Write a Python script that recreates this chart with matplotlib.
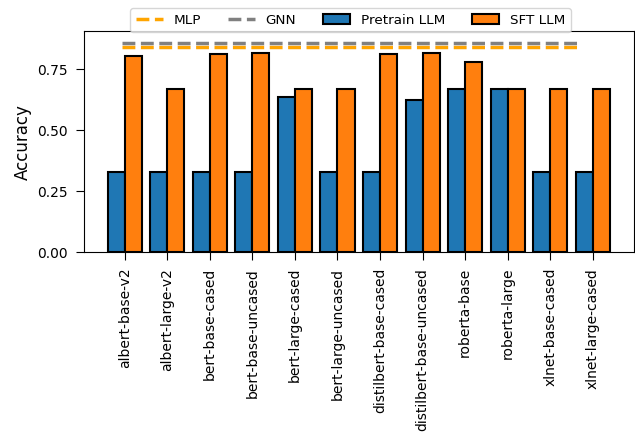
import numpy as np
import matplotlib.pyplot as plt

models = ["albert-base-v2", "albert-large-v2", "bert-base-cased", "bert-base-uncased",
          "bert-large-cased", "bert-large-uncased", "distilbert-base-cased",
          "distilbert-base-uncased", "roberta-base", "roberta-large",
          "xlnet-base-cased", "xlnet-large-cased"]
pretrain_acc = [0.33, 0.33, 0.33, 0.33, 0.635, 0.33, 0.33, 0.623, 0.67, 0.67, 0.33, 0.33]
sft_acc = [0.805, 0.67, 0.813, 0.815, 0.67, 0.67, 0.81, 0.815, 0.78, 0.67, 0.67, 0.67]
mlp_acc = 0.841
gnn_acc = 0.857

x = np.arange(len(models))
width = 0.4

fig = plt.figure(figsize=(6.35, 4.34), dpi=100)
ax = fig.add_axes([0.132, 0.419, 0.866, 0.5095])

ax.axhline(mlp_acc, xmin=0.07, xmax=0.9, color="orange", linestyle="--", linewidth=2.5, label="MLP")
ax.axhline(gnn_acc, xmin=0.07, xmax=0.9, color="gray", linestyle="--", linewidth=2.5, label="GNN")
ax.bar(x - width, pretrain_acc, width, align="edge", color="tab:blue",
       edgecolor="black", linewidth=1.5, label="Pretrain LLM")
ax.bar(x, sft_acc, width, align="edge", color="tab:orange",
       edgecolor="black", linewidth=1.5, label="SFT LLM")

ax.set_xticks(x)
ax.set_xticklabels(models, rotation=90, fontsize=10)
ax.tick_params(axis="both", length=5.8, pad=5.5)
ax.tick_params(axis="y", labelsize=10)
ax.set_yticks([0, 0.25, 0.5, 0.75])
ax.set_ylim(0, 0.906)
ax.set_xlim(-0.96, 11.96)
ax.set_ylabel("Accuracy", fontsize=12)
ax.legend(ncol=4, loc="lower center", bbox_to_anchor=(0.485, 0.995), fontsize=9.7,
          borderaxespad=0)

fig.savefig("out.png", dpi=100)
